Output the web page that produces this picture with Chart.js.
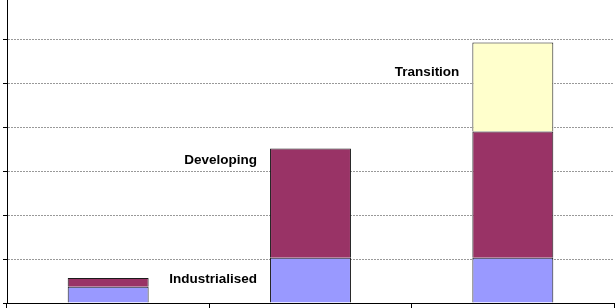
<!DOCTYPE html>
<html>
<head>
<meta charset="utf-8">
<script src="https://cdn.jsdelivr.net/npm/chart.js@4"></script>
<style>
  html, body { margin: 0; padding: 0; background: #fff; overflow: hidden; }
  #wrap { position: absolute; left: 0; top: -4px; width: 616px; height: 312px; }
</style>
</head>
<body>
<div id="wrap"><canvas id="chart"></canvas></div>
<script>
const categories = ['Industrialised', 'Developing', 'Transition'];
const industrialised = [0.37, 1.03, 1.03];
const developing = [0.2, 2.49, 2.88];
const transition = [null, null, 2.03];

// series name labels: [text, category index, value at baseline]
const labelText = ['Industrialised', 'Developing', 'Transition'];
const labelCat = [1, 1, 2];
const labelVal = [0.46, 3.17, 5.18];

const seriesLabels = {
    id: 'seriesLabels',
    afterDatasetsDraw(chart) {
        const ctx = chart.ctx;
        const y = chart.scales.y;
        const meta = chart.getDatasetMeta(0);
        ctx.save();
        ctx.font = 'bold 13.5px "Liberation Sans", Arial, sans-serif';
        ctx.fillStyle = '#000';
        ctx.textAlign = 'right';
        ctx.textBaseline = 'alphabetic';
        labelText.forEach((t, i) => {
            const bar = meta.data[labelCat[i]];
            const left = bar.x - bar.width / 2;
            ctx.fillText(t, left - 13, y.getPixelForValue(labelVal[i]));
        });
        ctx.restore();
    }
};

new Chart(document.getElementById('chart'), {
    type: 'bar',
    data: {
        labels: categories,
        datasets: [
            { label: 'Industrialised', data: industrialised, backgroundColor: '#9999ff', borderColor: '#1a1a1a', borderWidth: 1 },
            { label: 'Developing', data: developing, backgroundColor: '#993366', borderColor: '#1a1a1a', borderWidth: 1 },
            { label: 'Transition', data: transition, backgroundColor: '#ffffcc', borderColor: '#1a1a1a', borderWidth: 1 }
        ]
    },
    options: {
        responsive: true,
        maintainAspectRatio: false,
        animation: false,
        layout: { padding: { left: 0, right: 2, top: 0, bottom: 0 } },
        plugins: { legend: { display: false }, tooltip: { enabled: false } },
        datasets: { bar: { barPercentage: 0.8, categoryPercentage: 0.5 } },
        scales: {
            x: {
                stacked: true,
                ticks: { display: false },
                grid: { drawOnChartArea: false, drawTicks: true, tickLength: 5, tickColor: '#000', offset: true },
                border: { display: true, color: '#000', width: 1 },
                afterFit: s => { s.height = 5; }
            },
            y: {
                stacked: true,
                min: 0,
                max: 7,
                ticks: { display: false, stepSize: 1 },
                grid: { drawTicks: true, tickLength: 4, tickColor: '#000', color: '#999', lineWidth: 1, tickBorderDash: [] },
                border: { display: true, color: '#000', width: 1, dash: [2, 1] },
                afterFit: s => { s.width = 7; }
            }
        }
    },
    plugins: [seriesLabels]
});
</script>
</body>
</html>
